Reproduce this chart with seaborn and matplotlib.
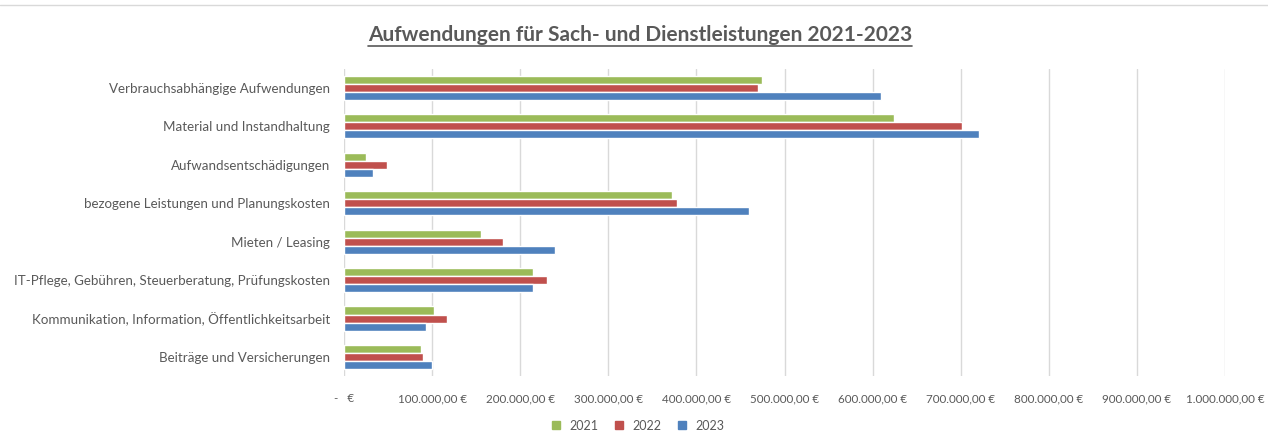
import pandas as pd
import matplotlib.pyplot as plt
import seaborn as sns
from matplotlib.lines import Line2D
from matplotlib.ticker import FuncFormatter

# --- Data ---
categories = [
    "Verbrauchsabhängige Aufwendungen",
    "Material und Instandhaltung",
    "Aufwandsentschädigungen",
    "bezogene Leistungen und Planungskosten",
    "Mieten / Leasing",
    "IT-Pflege, Gebühren, Steuerberatung, Prüfungskosten",
    "Kommunikation, Information, Öffentlichkeitsarbeit",
    "Beiträge und Versicherungen",
]
years = ["2021", "2022", "2023"]
values_2021 = [475000, 624000, 25000, 372000, 156000, 215000, 102000, 87000]
values_2022 = [470000, 701000, 49000, 378000, 180000, 230000, 117000, 90000]
values_2023 = [610000, 721000, 33000, 460000, 239000, 215000, 93000, 100000]

df = pd.DataFrame({
    "Kategorie": categories * 3,
    "Jahr": [y for y in years for _ in categories],
    "Betrag": values_2021 + values_2022 + values_2023,
})

palette = {"2021": "#9BBB59", "2022": "#C0504D", "2023": "#4F81BD"}
text_col = "#595959"

sns.set_theme(style="white")
plt.rcParams["font.family"] = ["Lato", "DejaVu Sans"]

fig = plt.figure(figsize=(12.68, 4.32), dpi=100)
ax = fig.add_axes([0.2713, 0.129, 0.6948, 0.712])

sns.barplot(data=df, x="Betrag", y="Kategorie", hue="Jahr", hue_order=years,
            order=categories, palette=palette, width=0.63, orient="h",
            saturation=1, ax=ax, legend=False)


def euro(x, pos):
    if x == 0:
        return "-   €"
    s = f"{x:,.2f}".replace(",", "X").replace(".", ",").replace("X", ".")
    return s + " €"


ax.set_xlim(0, 1000000)
ax.set_xticks(range(0, 1000001, 100000))
ax.xaxis.set_major_formatter(FuncFormatter(euro))
ax.grid(axis="x", color="#D9D9D9", linewidth=1)
ax.set_axisbelow(True)
for s in ax.spines.values():
    s.set_visible(False)
ax.set_xlabel("")
ax.set_ylabel("")
ax.tick_params(axis="x", labelsize=8.4, colors=text_col, length=0, pad=12)
ax.tick_params(axis="y", labelsize=9.6, colors=text_col, length=0, pad=10)

# legend at bottom
handles = [Line2D([], [], marker="s", linestyle="", markersize=6,
                  color=palette[y]) for y in years]
fig.legend(handles, years, loc="lower center", ncol=3, frameon=False,
           bbox_to_anchor=(0.5, -0.025), fontsize=9, labelcolor=text_col,
           handletextpad=0.1, columnspacing=0.6)

# underlined title
title = fig.text(0.505, 0.92, "Aufwendungen für Sach- und Dienstleistungen 2021-2023",
                 ha="center", va="center", fontsize=15, fontweight="bold",
                 color=text_col)
fig.canvas.draw()
bb = title.get_window_extent().transformed(fig.transFigure.inverted())
fig.add_artist(Line2D([bb.x0, bb.x1], [bb.y0 - 0.004, bb.y0 - 0.004],
                      color=text_col, linewidth=1.2, transform=fig.transFigure))

# thin chart border at top
fig.add_artist(Line2D([0, 1], [0.988, 0.988], color="#D9D9D9", linewidth=1,
                      transform=fig.transFigure))

fig.savefig("out.png", dpi=100)
